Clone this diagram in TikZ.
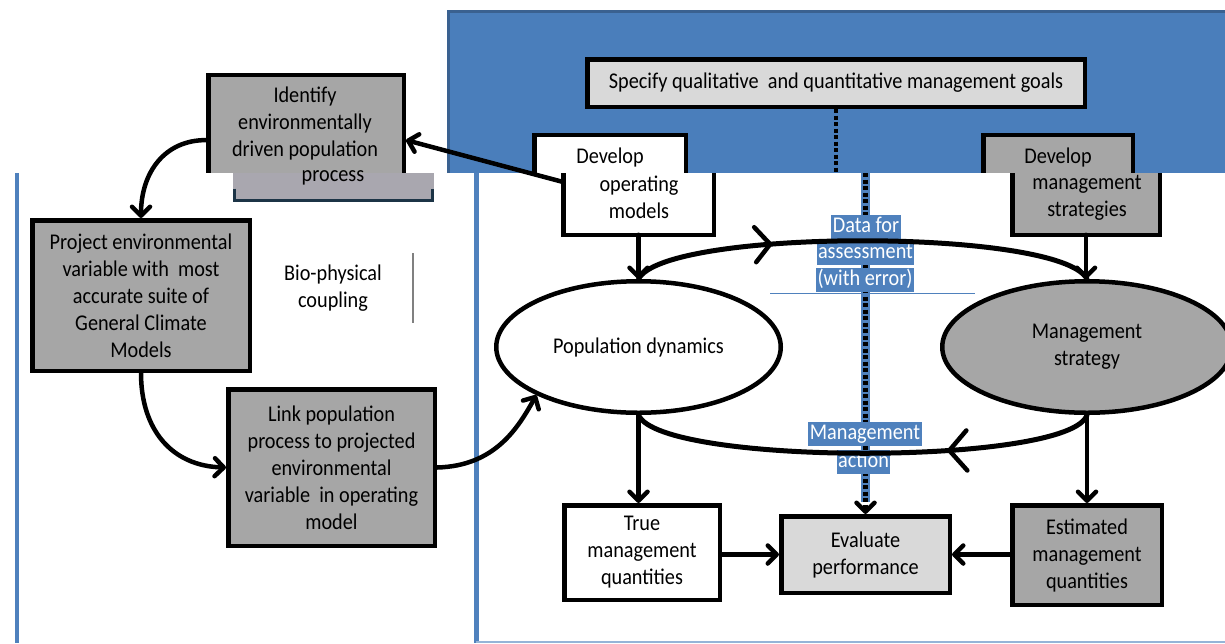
\documentclass[tikz,border=0pt]{standalone}
\usepackage{fontspec}
\setmainfont[FakeStretch=0.9]{Carlito}
\usetikzlibrary{arrows.meta,shapes.geometric,calc}
\definecolor{bluebg}{HTML}{4A7EBB}
\definecolor{blueedge}{HTML}{3A6190}
\definecolor{lineblue}{HTML}{4F81BD}
\definecolor{boxgray}{HTML}{A6A6A6}
\definecolor{paleGray}{HTML}{D9D9D9}
\definecolor{stripgray}{HTML}{A9A7AF}
\definecolor{stripedge}{HTML}{1C3446}
\begin{document}
\begin{tikzpicture}[x=1pt,y=-1pt,
  txt/.style={font=\fontsize{22.5}{27}\selectfont, align=center, inner sep=0pt},
  boxshape/.style={draw=black, line width=4.5pt, inner sep=0pt, outer sep=2.25pt, txt},
  partshape/.style={draw=none, inner sep=0pt, outer sep=0pt, rectangle},
  bordln/.style={draw=black, line width=4.5pt},
  conn/.style={line width=4.5pt, line cap=round, -{Straight Barb[length=9pt,width=18pt,round]}},
  arcln/.style={line width=5pt, line cap=round},
  chev/.style={line width=4.5pt, line cap=round, line join=round},
  lbl/.style={fill=lineblue, text=white, font=\fontsize{22.5}{27}\selectfont, inner xsep=1.5pt, inner ysep=1.5pt, text height=15.5pt, text depth=5pt},
  dashln/.style={line width=4.5pt, dash pattern=on 4pt off 2.5pt},
]
\useasboundingbox (0,0) rectangle (1225,643);
% panels
\fill[bluebg] (447,10) rectangle (1225,173);
\draw[blueedge, line width=3pt] (448.5,173) -- (448.5,11.5) -- (1225,11.5);
\draw[lineblue, line width=4pt] (17,173) -- (17,643);
\draw[lineblue, line width=5pt] (476,173) -- (476,643);
\draw[lineblue!60, line width=2pt] (476,641.5) -- (1225,641.5);

% top goal box
\node[boxshape, fill=paleGray, minimum width=497.5pt, minimum height=47.5pt] (spec) at (836,83) {Specify qualitative\ \ and quantitative management goals};

% identify box (split)
\node[partshape, fill=boxgray, minimum width=195.5pt, minimum height=97.75pt] (idT) at (306,124.1) {};
\draw[bordln] (idT.south west) -- (idT.north west) -- (idT.north east) -- (idT.south east);
\node[partshape, fill=stripgray, minimum width=201pt, minimum height=27.5pt] (idS) at (333.5,186.75) {};
\draw[stripedge, line width=3pt] ($(idS.south west)+(1.5,-12)$) -- ($(idS.south west)+(1.5,0)$) -- ($(idS.south east)+(-1.5,0)$) -- ($(idS.south east)+(-1.5,-12)$);
\node[txt] (idTx) at (305,123) {Identify\\environmentally\\driven population};
\node[txt] (idTx2) at (333,178) {process};

% project box
\node[boxshape, fill=boxgray, minimum width=217.5pt, minimum height=150.5pt] (prj) at (141,295.5) {Project environmental\\variable with\ \ most\\accurate suite of\\General Climate\\Models};

% bio-physical coupling
\node[txt] (bio) at (333,288) {Bio-physical\\coupling};
\draw[gray, line width=1.2pt] (413,253) -- (413,323);

% link box
\node[boxshape, fill=boxgray, minimum width=206.5pt, minimum height=156.5pt] (lnk) at (331.5,467.5) {Link population\\process to projected\\environmental\\variable\ \ in operating\\model};

% develop operating models (split)
\node[partshape, fill=white, minimum width=151.5pt, minimum height=37.75pt] (domT) at (610,154.1) {};
\draw[bordln] (domT.south west) -- (domT.north west) -- (domT.north east) -- (domT.south east);
\node[partshape, fill=white, minimum width=150.5pt, minimum height=61.75pt] (domB) at (638.5,203.9) {};
\draw[bordln] (domB.north west) -- (domB.south west) -- (domB.south east) -- (domB.north east);
\node[txt] (domTx1) at (610,157) {Develop};
\node[txt] (domTx2) at (639,197.5) {operating\\models};

% develop management strategies (split)
\node[partshape, fill=boxgray, minimum width=149.5pt, minimum height=37.75pt] (dmsT) at (1058,154.1) {};
\draw[bordln] (dmsT.south west) -- (dmsT.north west) -- (dmsT.north east) -- (dmsT.south east);
\node[partshape, fill=boxgray, minimum width=147.5pt, minimum height=61.75pt] (dmsB) at (1086,203.9) {};
\draw[bordln] (dmsB.north west) -- (dmsB.south west) -- (dmsB.south east) -- (dmsB.north east);
\node[txt] (dmsTx1) at (1058,157) {Develop};
\node[txt] (dmsTx2) at (1087,197.5) {management\\strategies};

% ellipses
\node[boxshape, ellipse, fill=white, minimum width=284.5pt, minimum height=131.5pt] (pop) at (638.5,347) {Population dynamics};
\node[boxshape, ellipse, fill=boxgray, minimum width=289.5pt, minimum height=131.5pt] (mst) at (1087,347) {Management\\strategy};

% bottom boxes
\node[boxshape, fill=white, minimum width=155.5pt, minimum height=94.5pt] (tru) at (642,552.5) {True\\management\\quantities};
\node[boxshape, fill=paleGray, minimum width=168.5pt, minimum height=76.5pt] (evl) at (865.5,554.5) {Evaluate\\performance};
\node[boxshape, fill=boxgray, minimum width=149.5pt, minimum height=99.5pt] (est) at (1087,555) {Estimated\\management\\quantities};

% dashed goal line
\coordinate (dashA) at (836,173);
\coordinate (dashB) at (865.5,173);
\draw[dashln] (spec.south) -- (dashA);
\draw[lineblue, line width=9pt] (dashB) -- ($(evl.north)+(0,-12)$);
\draw[dashln, -{Straight Barb[length=9pt,width=18pt,round]}] (dashB) -- (evl.north);

% labels
\node[lbl] (lD1) at (866,227) {Data for};
\node[lbl] (lD2) at (865.5,253.5) {assessment};
\node[lbl] (lD3) at (865,280) {(with error)};
\node[lbl] (lM1) at (865,434) {Management};
\node[lbl] (lM2) at (863.5,462) {action};
\draw[lineblue, line width=1pt] (770,293) -- (975,293);

% connectors
\draw[conn] ($(domB.north west)+(0,9)$) -- ($(idT.east)+(2.25,16)$);
\draw[conn] ($(idT.west)+(-2.25,16)$) .. controls (165,140) and (141,172) .. (prj.north);
\draw[conn] (prj.south) .. controls (141,430) and (172,466) .. (lnk.west);
\draw[conn] (lnk.east) .. controls (495,466) and (518,428) .. (pop.south west);
\draw[conn] (domB.south) -- (domB.south |- pop.north);
\draw[conn] (dmsB.south) -- (dmsB.south |- mst.north);

\draw[arcln] (pop.north) .. controls (665,228) and (1060,228) .. (mst.north) coordinate[pos=0.35] (topMid);
\draw[chev] ($(topMid)+(-16,-17)$) -- (topMid) -- ($(topMid)+(-14,18)$);
\draw[arcln] (mst.south) .. controls (1070,466) and (660,466) .. (pop.south) coordinate[pos=0.365] (botMid);
\draw[chev] ($(botMid)+(17,-20)$) -- (botMid) -- ($(botMid)+(18,20)$);

\draw[conn] (pop.south) -- (pop.south |- tru.north);
\draw[conn] (mst.south) -- (mst.south |- est.north);
\draw[conn] (tru.east |- evl.west) -- (evl.west);
\draw[conn] (est.west |- evl.east) -- (evl.east);
\end{tikzpicture}
\end{document}
